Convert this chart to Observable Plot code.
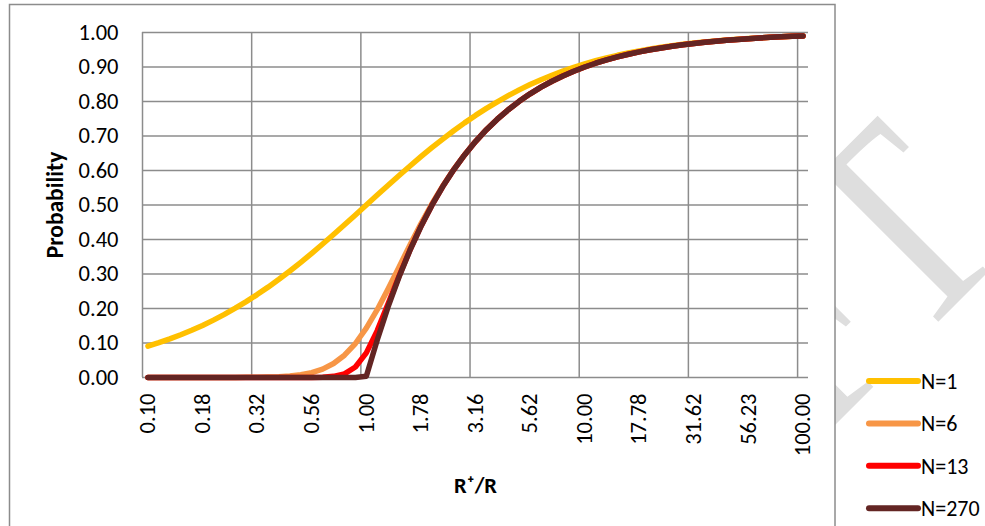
<!DOCTYPE html>
<html><head><meta charset="utf-8">
<script src="https://cdn.jsdelivr.net/npm/d3@7"></script>
<script src="https://cdn.jsdelivr.net/npm/@observablehq/plot@0.6"></script>
<style>
html,body{margin:0;padding:0;background:#fff;}
#chart{position:relative;width:985px;height:526px;overflow:hidden;}
</style></head><body><div id="chart"></div>
<script>
// R+/R values (categories, log-spaced)
const ratios = [0.1, 0.1122, 0.1259, 0.1413, 0.1585, 0.1778, 0.1995, 0.2239, 0.2512, 0.2818,
  0.3162, 0.3548, 0.3981, 0.4467, 0.5012, 0.5623, 0.6310, 0.7079, 0.7943, 0.8913,
  1.0, 1.122, 1.259, 1.413, 1.585, 1.778, 1.995, 2.239, 2.512, 2.818,
  3.162, 3.548, 3.981, 4.467, 5.012, 5.623, 6.310, 7.079, 7.943, 8.913,
  10.0, 11.22, 12.59, 14.13, 15.85, 17.78, 19.95, 22.39, 25.12, 28.18,
  31.62, 35.48, 39.81, 44.67, 50.12, 56.23, 63.10, 70.79, 79.43, 89.13, 100.0];

const seriesNames = ["N=1", "N=6", "N=13", "N=270"];
const seriesColors = ["#FFC000", "#F79646", "#FF0000", "#632523"];

const probN1 = [0.0909, 0.1009, 0.1118, 0.1238, 0.1368, 0.1510, 0.1663, 0.1829, 0.2008, 0.2199,
  0.2403, 0.2619, 0.2847, 0.3088, 0.3339, 0.3599, 0.3869, 0.4145, 0.4427, 0.4712,
  0.5000, 0.5288, 0.5573, 0.5855, 0.6131, 0.6401, 0.6661, 0.6912, 0.7153, 0.7381,
  0.7597, 0.7801, 0.7992, 0.8171, 0.8337, 0.8490, 0.8632, 0.8762, 0.8882, 0.8991,
  0.9091, 0.9182, 0.9264, 0.9339, 0.9406, 0.9468, 0.9523, 0.9572, 0.9617, 0.9657,
  0.9693, 0.9726, 0.9755, 0.9781, 0.9804, 0.9825, 0.9844, 0.9861, 0.9876, 0.9889, 0.9901];

const probN6 = [0, 0, 0, 0, 0, 0, 0.0001, 0.0001, 0.0002, 0.0004,
  0.0007, 0.0013, 0.0024, 0.0044, 0.0080, 0.0141, 0.0243, 0.0404, 0.0645, 0.0985,
  0.1429, 0.1965, 0.2569, 0.3206, 0.3843, 0.4456, 0.5028, 0.5553, 0.6029, 0.6456,
  0.6840, 0.7183, 0.7489, 0.7762, 0.8005, 0.8222, 0.8415, 0.8587, 0.8741, 0.8878,
  0.9000, 0.9109, 0.9206, 0.9292, 0.9369, 0.9438, 0.9499, 0.9553, 0.9602, 0.9645,
  0.9684, 0.9718, 0.9749, 0.9776, 0.9800, 0.9822, 0.9842, 0.9859, 0.9874, 0.9888, 0.9900];

const probN13 = [0, 0, 0, 0, 0, 0, 0, 0, 0, 0,
  0, 0, 0, 0, 0.0001, 0.0002, 0.0009, 0.0033, 0.0107, 0.0304,
  0.0714, 0.1359, 0.2142, 0.2944, 0.3696, 0.4378, 0.4988, 0.5533, 0.6019, 0.6452,
  0.6838, 0.7182, 0.7488, 0.7761, 0.8005, 0.8222, 0.8415, 0.8587, 0.8741, 0.8878,
  0.9000, 0.9109, 0.9206, 0.9292, 0.9369, 0.9438, 0.9499, 0.9553, 0.9602, 0.9645,
  0.9684, 0.9718, 0.9749, 0.9776, 0.9800, 0.9822, 0.9842, 0.9859, 0.9874, 0.9888, 0.9900];

const probN270 = [0, 0, 0, 0, 0, 0, 0, 0, 0, 0,
  0, 0, 0, 0, 0, 0, 0, 0, 0, 0,
  0.0037, 0.1087, 0.2057, 0.2921, 0.3690, 0.4377, 0.4988, 0.5533, 0.6019, 0.6452,
  0.6838, 0.7182, 0.7488, 0.7761, 0.8005, 0.8222, 0.8415, 0.8587, 0.8741, 0.8878,
  0.9000, 0.9109, 0.9206, 0.9292, 0.9369, 0.9438, 0.9499, 0.9553, 0.9602, 0.9645,
  0.9684, 0.9718, 0.9749, 0.9776, 0.9800, 0.9822, 0.9842, 0.9859, 0.9874, 0.9888, 0.9900];

const xTickValues = [0.1, 0.1778, 0.3162, 0.5623, 1, 1.778, 3.162, 5.623, 10, 17.78, 31.62, 56.23, 100];
const xTickLabels = ["0.10", "0.18", "0.32", "0.56", "1.00", "1.78", "3.16", "5.62", "10.00", "17.78", "31.62", "56.23", "100.00"];
const xGridValues = [0.09441, 0.2985, 0.9441, 2.985, 9.441, 29.85, 94.41];
const yTickValues = [0, 0.1, 0.2, 0.3, 0.4, 0.5, 0.6, 0.7, 0.8, 0.9, 1.0];

const axisTitleY = "Probability";
const axisTitleX = "R\u207A/R";
const watermarkText = "DRAFT";

const seriesValues = [probN1, probN6, probN13, probN270];
const rows = [];
seriesNames.forEach((name, s) => ratios.forEach((r, i) => rows.push({series: name, ratio: r, p: seriesValues[s][i]})));

const font = "Carlito, Calibri, 'Open Sans', sans-serif";
const gridColor = "#8c8c8c";

const plot = Plot.plot({
  width: 985, height: 526,
  marginLeft: 142, marginRight: 177, marginTop: 32, marginBottom: 149,
  style: {fontFamily: font, fontSize: "22.5px", background: "transparent", color: "#000"},
  x: {type: "log", domain: [0.0944061, 105.925], axis: null},
  y: {domain: [0, 1], axis: null},
  color: {domain: seriesNames, range: seriesColors},
  marks: [
    Plot.ruleY(yTickValues, {stroke: gridColor, strokeWidth: 1.5}),
    Plot.ruleX(xGridValues, {stroke: gridColor, strokeWidth: 1.5}),
    Plot.line(rows, {x: "ratio", y: "p", z: "series", stroke: "series", strokeWidth: 5.5,
      strokeLinecap: "round", strokeLinejoin: "round"}),
    Plot.text(yTickValues, {y: d => d, frameAnchor: "left", dx: -24, textAnchor: "end", lineAnchor: "middle",
      text: d => d3.format(".2f")(d)}),
    Plot.text(xTickValues, {x: d => d, frameAnchor: "bottom", dy: 16, rotate: -90, textAnchor: "end",
      lineAnchor: "middle", text: (d, i) => xTickLabels[i]}),
    Plot.text([axisTitleY], {frameAnchor: "left", dx: -87, rotate: -90, textAnchor: "middle", lineAnchor: "middle",
      fontWeight: "bold", fontSize: 23.5}),
    Plot.text([axisTitleX], {frameAnchor: "bottom", dy: 108, textAnchor: "middle", lineAnchor: "middle",
      fontWeight: "bold", fontSize: 22.5})
  ]
});

const svg = d3.select(plot);
// chart frame (white) over the watermark
svg.insert("rect", ":first-child")
  .attr("x", 9.5).attr("y", 4.5).attr("width", 825.5).attr("height", 600)
  .attr("fill", "#fff").attr("stroke", gridColor).attr("stroke-width", 1.5);
svg.insert("text", ":first-child")
  .attr("transform", "translate(963.3,296.7) rotate(-45) scale(0.81,1)")
  .attr("x", 88).attr("y", 0)
  .attr("text-anchor", "end")
  .attr("font-family", "'Liberation Serif','Times New Roman',serif")
  .attr("font-size", 288)
  .attr("fill", "#dedede")
  .text(watermarkText);

// legend
const legend = svg.append("g").attr("text-anchor", "start");
seriesNames.forEach((name, s) => {
  const yL = 381 + 42.4 * s;
  legend.append("line").attr("x1", 869).attr("x2", 918).attr("y1", yL).attr("y2", yL)
    .attr("stroke", seriesColors[s]).attr("stroke-width", 6).attr("stroke-linecap", "round");
  legend.append("text").attr("x", 921).attr("y", yL).attr("dy", "0.35em")
    .attr("text-anchor", "start")
    .attr("font-family", font).attr("font-size", 22).attr("fill", "#000").text(name);
});

document.getElementById("chart").appendChild(plot);
</script>
</body></html>
